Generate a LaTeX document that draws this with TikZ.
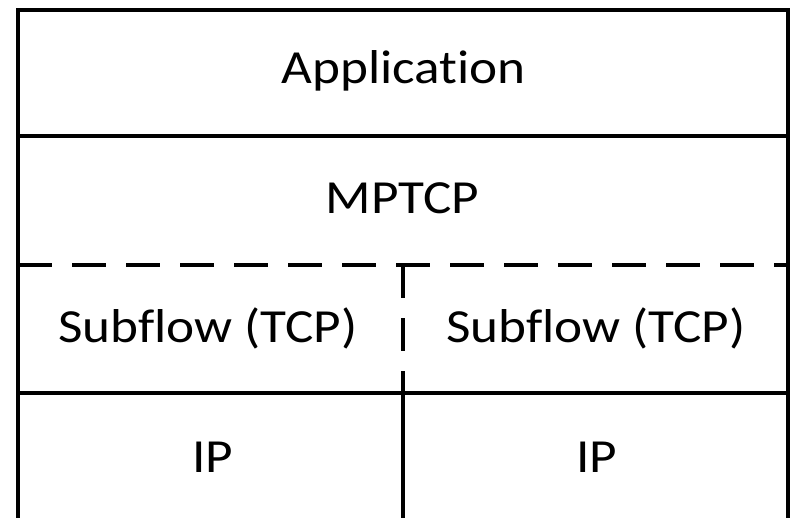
\documentclass[tikz,border=0pt]{standalone}
\usepackage{fontspec}
\setmainfont{Carlito}[Ligatures={NoCommon}]
\tikzset{
  layerline/.style={line width=4.5pt, line cap=butt},
  dashline/.style={layerline, dash pattern=on 34pt off 20pt},
  label/.style={anchor=base, inner sep=0pt, font=\fontsize{47.5}{50}\selectfont}
}
\newcommand{\wide}[1]{\scalebox{1.12}[1]{#1}}
\begin{document}
\begin{tikzpicture}[x=1pt,y=-1pt]
\useasboundingbox (0,0) rectangle (800,517);
\clip (0,0) rectangle (800,517);
\coordinate (bl) at (18,540);
\coordinate (tl) at (18,10);
\coordinate (tr) at (788,10);
\coordinate (br) at (788,540);
\coordinate (l1) at (18,136);  \coordinate (r1) at (788,136);
\coordinate (l2) at (18,265);  \coordinate (r2) at (788,265);
\coordinate (l3) at (18,393);  \coordinate (r3) at (788,393);
\coordinate (m2) at (403,265); \coordinate (m3) at (403,393); \coordinate (mb) at (403,540);
\draw[layerline, line join=miter] (bl) -- (tl) -- (tr) -- (br);
\draw[layerline] (l1) -- (r1);
\draw[dashline] (l2) -- (r2);
\draw[layerline] (l3) -- (r3);
\draw[layerline, dash pattern=on 33pt off 20pt] (m2) -- (m3);
\draw[layerline] (m3) -- (mb);
\node[label] (app) at (403.5,83) {\wide{Application}};
\node[label] (mptcp) at (402.5,213) {\wide{MPTCP}};
\node[label] (sub1) at (208,342) {\wide{Subflow (TCP)}};
\node[label] (sub2) at (596,342) {\wide{Subflow (TCP)}};
\node[label] (ip1) at (212.5,472) {\wide{IP}};
\node[label] (ip2) at (596.5,472) {\wide{IP}};
\end{tikzpicture}
\end{document}
